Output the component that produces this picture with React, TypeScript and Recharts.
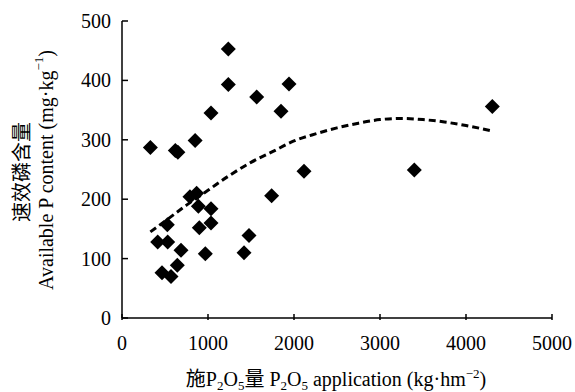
import { ComposedChart, Scatter, Line, XAxis, YAxis, Label } from 'recharts'

// P2O5 application (kg/hm2) and available P (mg/kg) per sample
const appliedP = [330, 620, 650, 850, 1035, 1236, 1236, 1566, 1849, 1942, 2116, 1740, 4306, 3399, 790, 868, 888, 1035, 527, 899, 1035, 415, 531, 686, 969, 1477, 1419, 465, 570, 643]
const availableP = [287, 282, 279, 299, 345, 453, 393, 372, 348, 394, 247, 206, 356, 249, 204, 210, 188, 184, 157, 152, 160, 128, 128, 114, 108, 139, 110, 76, 70, 89]

// fitted trend
const trendX = [330, 500, 750, 1000, 1250, 1500, 1750, 2000, 2250, 2500, 2750, 3000, 3250, 3500, 3750, 4000, 4300]
const trendY = [145, 163, 190, 215, 240, 262, 280, 298, 310, 320, 328, 334, 336, 334, 330, 324, 315]

const xTicks = [0, 1000, 2000, 3000, 4000, 5000]
const yTicks = [0, 100, 200, 300, 400, 500]

const points = appliedP.map((x, i) => ({ x, y: availableP[i] }))
const trend = trendX.map((x, i) => ({ x, y: trendY[i] }))

const serif = '"Liberation Serif", "Times New Roman", "Noto Sans CJK SC", serif'
const cjk = '"Noto Sans CJK SC", serif'

const Diamond = (props: any) => {
  const { cx, cy } = props
  const r = 7.5
  return <polygon points={`${cx},${cy - r} ${cx + r},${cy} ${cx},${cy + r} ${cx - r},${cy}`} fill="#000" />
}

const YTick = (props: any) => {
  const { x, y, payload } = props
  return (
    <g>
      <line x1={x + 11} x2={x + 17} y1={y} y2={y} stroke="#000" strokeWidth={1.5} />
      <text x={x} y={y} dy="0.35em" textAnchor="end" fontFamily={serif} fontSize={20} fill="#000">
        {payload.value}
      </text>
    </g>
  )
}

const XTick = (props: any) => {
  const { x, y, payload } = props
  return (
    <g>
      <line x1={x} x2={x} y1={y} y2={y - 6} stroke="#000" strokeWidth={1.5} />
      <text x={x} y={y + 30} textAnchor="middle" fontFamily={serif} fontSize={20} fill="#000">
        {payload.value}
      </text>
    </g>
  )
}

const XTitle = () => (
  <text x={336} y={386} textAnchor="middle" fontFamily={serif} fontSize={20} fill="#000">
    <tspan fontFamily={cjk}>施</tspan>
    <tspan>P</tspan>
    <tspan fontSize={13} dy={4}>2</tspan>
    <tspan dy={-4}>O</tspan>
    <tspan fontSize={13} dy={4}>5</tspan>
    <tspan dy={-4} fontFamily={cjk}>量</tspan>
    <tspan> P</tspan>
    <tspan fontSize={13} dy={4}>2</tspan>
    <tspan dy={-4}>O</tspan>
    <tspan fontSize={13} dy={4}>5</tspan>
    <tspan dy={-4}> application (kg·hm</tspan>
    <tspan fontSize={13} dy={-8}>−2</tspan>
    <tspan dy={8}>)</tspan>
  </text>
)

const YTitle = () => (
  <g>
    <text transform="translate(20,172) rotate(-90)" textAnchor="middle" dominantBaseline="central" fontFamily={cjk} fontSize={20} fill="#000">
      速效磷含量
    </text>
    <text transform="translate(46,170) rotate(-90)" textAnchor="middle" dominantBaseline="central" fontFamily={serif} fontSize={20} fill="#000">
      Available P content (mg·kg
      <tspan fontSize={13} dy={-8}>−1</tspan>
      <tspan dy={8}>)</tspan>
    </text>
  </g>
)

export default function App() {
  return (
    <div style={{ position: 'absolute', left: 0, top: 0, width: 575, height: 392, background: '#fff' }}>
      <ComposedChart width={575} height={392} margin={{ top: 21, right: 23, bottom: 0, left: 0 }}>
        <XAxis
          type="number"
          dataKey="x"
          domain={[0, 5000]}
          ticks={xTicks}
          height={74}
          axisLine={{ stroke: '#000', strokeWidth: 1.5 }}
          tickLine={false}
          tickSize={0}
          tick={<XTick />}
          interval={0}
        >
          <Label content={<XTitle />} />
        </XAxis>
        <YAxis
          type="number"
          dataKey="y"
          domain={[0, 500]}
          ticks={yTicks}
          width={122}
          axisLine={{ stroke: '#000', strokeWidth: 1.5 }}
          tickLine={false}
          tickSize={0}
          tickMargin={11}
          tick={<YTick />}
          interval={0}
        >
          <Label content={<YTitle />} />
        </YAxis>
        <Line
          data={trend}
          dataKey="y"
          type="monotone"
          stroke="#000"
          strokeWidth={3}
          strokeDasharray="7 4"
          dot={false}
          activeDot={false}
          isAnimationActive={false}
        />
        <Scatter data={points} dataKey="y" shape={<Diamond />} isAnimationActive={false} />
      </ComposedChart>
    </div>
  )
}
